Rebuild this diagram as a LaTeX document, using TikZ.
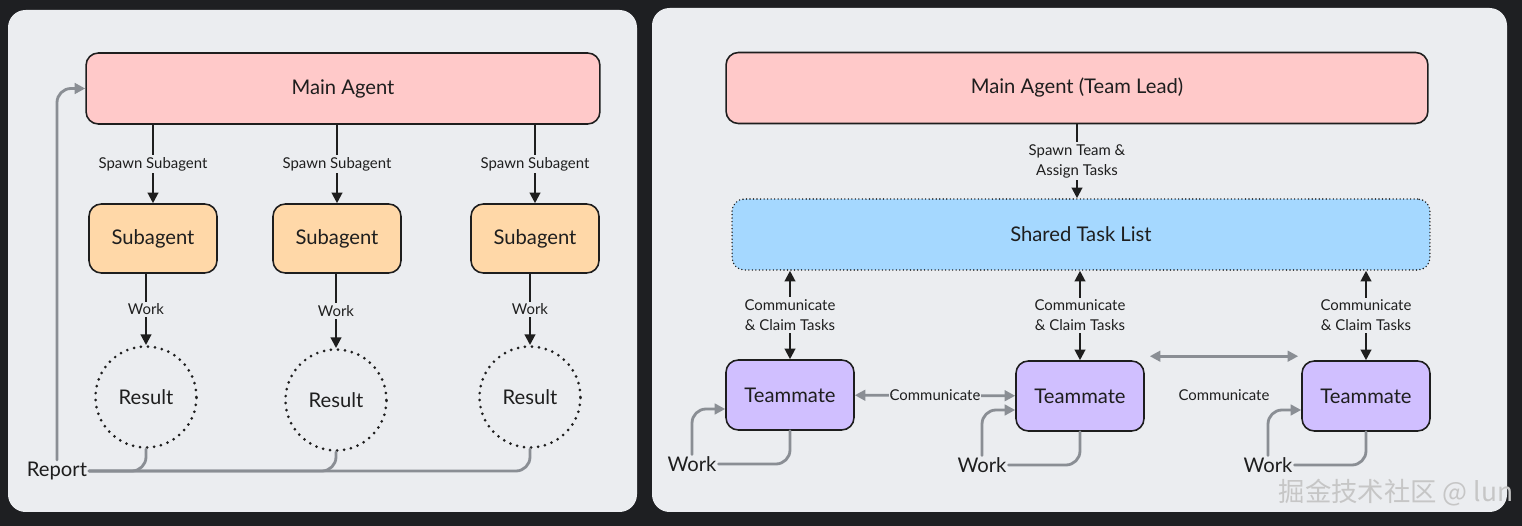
\documentclass[tikz,border=0pt]{standalone}
\usepackage{fontspec}
\setmainfont{Lato}
\newfontfamily\cjkfont{Noto Sans CJK SC}
\usetikzlibrary{arrows.meta}
\definecolor{bgdark}{RGB}{30,31,34}
\definecolor{panelgray}{RGB}{235,237,240}
\definecolor{leadpink}{RGB}{255,201,201}
\definecolor{suborange}{RGB}{255,216,168}
\definecolor{listblue}{RGB}{165,216,255}
\definecolor{matepurple}{RGB}{208,191,255}
\definecolor{linkgray}{RGB}{138,142,148}
\definecolor{inkblack}{RGB}{30,30,30}
\begin{document}
\begin{tikzpicture}[x=0.02cm,y=-0.02cm,>={Triangle[length=6pt,width=6pt]},line join=round,line cap=round,
	box/.style={draw=inkblack,line width=0.9pt,rounded corners=7pt,text=inkblack,font=\fontsize{11.5}{13}\selectfont},
	mainbox/.style={box,fill=leadpink,minimum height=1.42cm},
	subbox/.style={box,fill=suborange,minimum width=2.56cm,minimum height=1.38cm},
	matebox/.style={box,fill=matepurple,minimum width=2.56cm,minimum height=1.4cm},
	resultnode/.style={circle,draw=inkblack,line width=1.7pt,dash pattern=on 0pt off 4pt,minimum size=2.02cm,text=inkblack,font=\fontsize{11.5}{13}\selectfont},
	plain/.style={text=inkblack,inner sep=1pt,font=\fontsize{11.5}{13}\selectfont},
	blink/.style={draw=inkblack,line width=1.2pt},
	glink/.style={draw=linkgray,line width=1.6pt,rounded corners=8pt},
	lbl/.style={fill=panelgray,text=inkblack,inner sep=1.2pt,align=center,font=\fontsize{8.5}{11.4}\selectfont}]
	% panels
	\fill[bgdark] (0,0) rectangle (1522,526);
	\fill[panelgray,rounded corners=10pt] (8,10) rectangle (637,512);
	\fill[panelgray,rounded corners=10pt] (652,8) rectangle (1507,512);
	
	% subagents
	\node[mainbox,minimum width=10.28cm] (main) at (343,88.5) {Main Agent};
	\node[subbox] (s1) at (153,238.5) {Subagent};
	\node[subbox] (s2) at (337,238.5) {Subagent};
	\node[subbox] (s3) at (535,238.5) {Subagent};
	\node[resultnode] (r1) at (146,397) {Result};
	\node[resultnode] (r2) at (336,400) {Result};
	\node[resultnode] (r3) at (530,397) {Result};
	\node[plain] (rep) at (57,471) {Report};
	\draw[blink,->] (s1.north |- main.south)--node[lbl]{Spawn Subagent}(s1.north);
	\draw[blink,->] (s2.north |- main.south)--node[lbl]{Spawn Subagent}(s2.north);
	\draw[blink,->] (s3.north |- main.south)--node[lbl]{Spawn Subagent}(s3.north);
	\draw[blink,->] (r1.north |- s1.south)--node[lbl]{Work}(r1.north);
	\draw[blink,->] (r2.north |- s2.south)--node[lbl]{Work}(r2.north);
	\draw[blink,->] (r3.north |- s3.south)--node[lbl]{Work}(r3.north);
	\draw[glink] (r1.south) |- (rep.east);
	\draw[glink] (r2.south) |- (rep.east);
	\draw[glink] (r3.south) |- (rep.east);
	\draw[glink,->] (rep.north) |- (main.west);
	
	% team
	\node[mainbox,minimum width=14.04cm] (lead) at (1077,88) {Main Agent (Team Lead)};
	\node[box,fill=listblue,minimum width=13.96cm,minimum height=1.42cm,dash pattern=on 0pt off 2pt] (list) at (1081,234.5) {Shared Task List};
	\node[matebox] (t1) at (790,395) {Teammate};
	\node[matebox] (t2) at (1080,396) {Teammate};
	\node[matebox] (t3) at (1366,396) {Teammate};
	\node[plain] (w1) at (692,464) {Work};
	\node[plain] (w2) at (982,465) {Work};
	\node[plain] (w3) at (1268,465) {Work};
	\draw[blink,->] (lead.south |- lead.south)--node[lbl]{Spawn Team \&\\Assign Tasks}(lead.south |- list.north);
	\draw[blink,<->] (t1.north |- list.south)--node[lbl]{Communicate\\\& Claim Tasks}(t1.north);
	\draw[blink,<->] (t2.north |- list.south)--node[lbl]{Communicate\\\& Claim Tasks}(t2.north);
	\draw[blink,<->] (t3.north |- list.south)--node[lbl]{Communicate\\\& Claim Tasks}(t3.north);
	\draw[glink,<->] (t1)--node[lbl,inner sep=0.3pt]{Communicate}(t2);
	\draw[glink,<->] ([shift={(5,-4)}]t2.north east)--node[lbl,yshift=-0.78cm]{Communicate}([shift={(-3,-4)}]t3.north west);
	\draw[glink] (t1.south) |- (w1.east);
	\draw[glink] (t2.south) |- (w2.east);
	\draw[glink] (t3.south) |- (w3.east);
	\draw[glink,->] (w1.north) |- ([yshift=-0.28cm]t1.west);
	\draw[glink,->] (w2.north) |- ([yshift=-0.28cm]t2.west);
	\draw[glink,->] (w3.north) |- ([yshift=-0.28cm]t3.west);
	
	\node[text=gray!45,font=\cjkfont\fontsize{15}{15}\selectfont] (mark) at (1396,493) {掘金技术社区 @ lun};
\end{tikzpicture}
\end{document}
